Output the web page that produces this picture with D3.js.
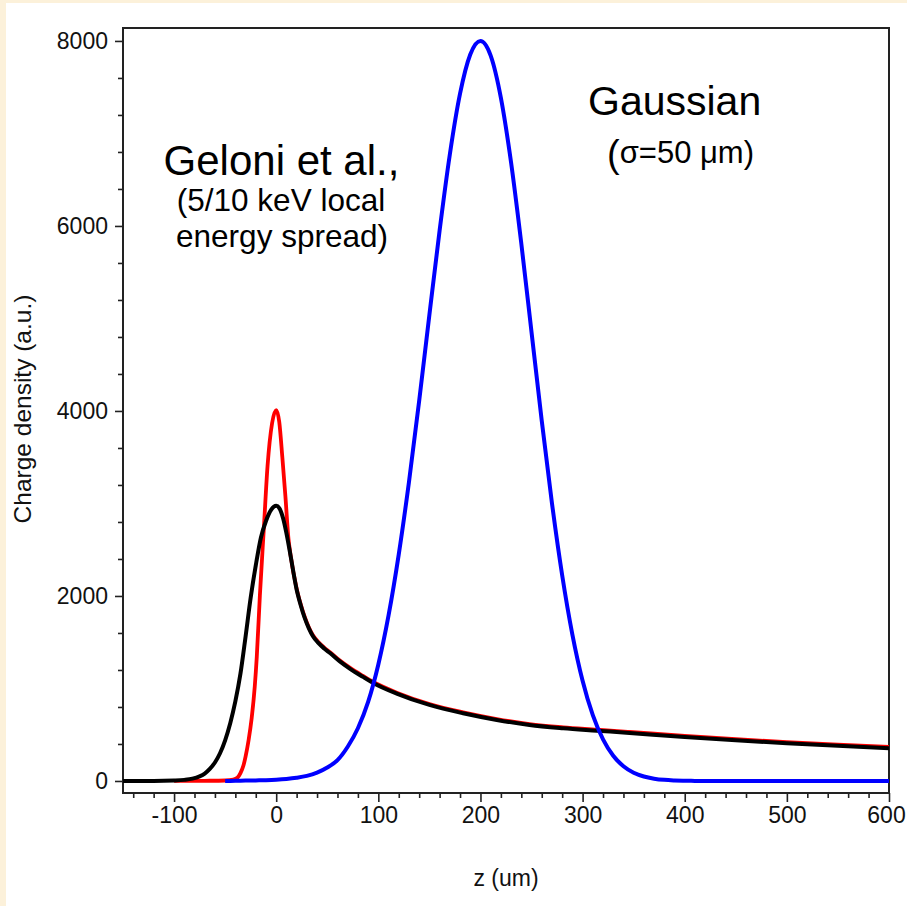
<!DOCTYPE html>
<html><head><meta charset="utf-8">
<script src="https://cdn.jsdelivr.net/npm/d3@7"></script>
<style>
html,body{margin:0;padding:0;background:#fcf1da;}
svg{display:block;}
text{font-family:"Liberation Sans",Arial,sans-serif;}
</style></head><body>
<svg id="c" width="907" height="906"></svg>
<script>
// ---- data ----
const xTickValues = [-100, 0, 100, 200, 300, 400, 500, 600];
const yTickValues = [0, 2000, 4000, 6000, 8000];
const xLabel = "z (um)";
const yLabel = "Charge density (a.u.)";

// Gaussian (sigma = 50 um), blue
const blueZ = [-50,-40,-30,-20,-10,0,10,20,30,40,50,60,70,80,90,100,110,120,130,140,150,160,170,180,190,200,
  210,220,230,240,250,260,270,280,290,300,310,320,330,340,350,360,370,380,390,400,410,420,450,500,550,600];
const blueV = [0,2,4,6,9,14,22,35,55,90,145,225,370,570,854,1259,1789,2450,3233,4111,5039,5951,6773,7430,7854,8000,
  7842,7385,6683,5809,4852,3894,3003,2224,1583,1083,711,449,272,159,89,48,25,12,6,3,1,0,0,0,0,0];

// Geloni et al., 5 keV local energy spread, red
const redZ = [-100,-70,-50,-42,-38,-35,-32,-30,-27,-24,-21,-19,-16,-12,-8.5,-4,0,3,6,9,12,14,20,24,28,32,36,41,47,53,62,72,85,95,118,150,183,216,248,281,314,346,400,450,500,550,600];
const redV = [0,2,5,15,35,85,170,263,443,680,1020,1344,2000,2750,3400,3870,4010,3880,3500,3080,2620,2445,2080,1910,1770,1660,1575,1505,1442,1390,1305,1225,1135,1070,955,832,742,670,615,580,555,530,487,452,420,393,368];

// Geloni et al., 10 keV local energy spread, black
const blackZ = [-150,-120,-100,-90,-82,-75,-70,-65,-60,-55,-50,-45,-40,-35,-30,-25,-20,-15,-10,-5,0,3,7,10,14,20,24,28,32,36,41,47,53,62,72,85,95,118,150,183,216,248,281,314,346,400,450,500,550,600];
const blackV = [0,0,5,12,25,50,80,130,200,300,440,625,860,1160,1560,1980,2330,2630,2810,2930,2975,2950,2830,2680,2440,2070,1900,1760,1650,1565,1495,1432,1380,1295,1215,1125,1060,945,822,732,660,605,570,544,519,475,440,408,380,355];

// ---- drawing ----
const W = 907, H = 906;
const svg = d3.select("#c");
svg.append("rect").attr("x", 6).attr("y", 3).attr("width", W - 6).attr("height", H - 3).attr("fill", "#ffffff");

const x = d3.scaleLinear().domain([-150, 600]).range([123, 889]);
const y = d3.scaleLinear().domain([-130, 8140]).range([793, 28]);

svg.append("defs").append("clipPath").attr("id", "clip")
  .append("rect").attr("x", x.range()[0]).attr("y", y.range()[1])
  .attr("width", x.range()[1] - x.range()[0]).attr("height", y.range()[0] - y.range()[1]);

const tickColor = "#222";
const fs = 23;
const fmt = d => String(d);

// minor ticks
const xMinor = d3.range(-140, 601, 20).filter(v => v % 100 !== 0);
const yMinor = d3.range(400, 8001, 400).filter(v => v % 2000 !== 0);

const gxm = svg.append("g").attr("transform", `translate(0,${y.range()[0]})`)
  .call(d3.axisBottom(x).tickValues(xMinor).tickSize(5).tickFormat(""));
const gx = svg.append("g").attr("transform", `translate(0,${y.range()[0]})`)
  .call(d3.axisBottom(x).tickValues(xTickValues).tickSize(9).tickPadding(5).tickFormat(fmt));
const gym = svg.append("g").attr("transform", `translate(${x.range()[0]},0)`)
  .call(d3.axisLeft(y).tickValues(yMinor).tickSize(5).tickFormat(""));
const gy = svg.append("g").attr("transform", `translate(${x.range()[0]},0)`)
  .call(d3.axisLeft(y).tickValues(yTickValues).tickSize(8).tickPadding(7).tickFormat(fmt));

[gxm, gx, gym, gy].forEach(g => {
  g.select(".domain").remove();
  g.selectAll(".tick line").attr("stroke", tickColor).attr("stroke-width", 1.6);
  g.selectAll(".tick text").attr("fill", "#111").style("font-size", fs + "px")
    .style("font-family", '"Liberation Sans",Arial,sans-serif');
});
// keep the last x label inside the page
gx.selectAll(".tick text").filter(d => d === 600).attr("dx", -3);

// frame
svg.append("rect").attr("x", x.range()[0]).attr("y", y.range()[1])
  .attr("width", x.range()[1] - x.range()[0]).attr("height", y.range()[0] - y.range()[1])
  .attr("fill", "none").attr("stroke", tickColor).attr("stroke-width", 2);

// curves
const line = d3.line().x(d => x(d[0])).y(d => y(d[1])).curve(d3.curveMonotoneX);
const plot = svg.append("g").attr("clip-path", "url(#clip)");
function series(zs, vs, color, w) {
  plot.append("path").datum(zs.map((z, i) => [z, vs[i]]))
    .attr("d", line).attr("fill", "none").attr("stroke", color)
    .attr("stroke-width", w).attr("stroke-linejoin", "round");
}
series(redZ, redV, "#ff0000", 3.8);
series(blackZ, blackV, "#000000", 4);
series(blueZ, blueV, "#0000ff", 4);

// axis labels
svg.append("text").attr("x", (x.range()[0] + x.range()[1]) / 2).attr("y", 886)
  .attr("text-anchor", "middle").style("font-size", fs + "px").attr("fill", "#111").text(xLabel);
svg.append("text").attr("transform", "translate(31,409) rotate(-90)")
  .attr("text-anchor", "middle").style("font-size", "24.5px").attr("fill", "#111").text(yLabel);

// annotations
svg.append("text").attr("x", 588).attr("y", 115).style("font-size", "41px").attr("fill", "#000").text("Gaussian");
const sg = svg.append("text").attr("x", 607).attr("y", 167).attr("fill", "#000");
sg.append("tspan").style("font-size", "38px").text("(");
sg.append("tspan").attr("dy", -4).style("font-size", "31px").text("σ=50 μm)");

svg.append("text").attr("x", 281.5).attr("y", 175).attr("text-anchor", "middle")
  .style("font-size", "42px").attr("fill", "#000").text("Geloni et al.,");
svg.append("text").attr("x", 281).attr("y", 211).attr("text-anchor", "middle")
  .style("font-size", "31.5px").attr("fill", "#000").text("(5/10 keV local");
svg.append("text").attr("x", 282).attr("y", 247).attr("text-anchor", "middle")
  .style("font-size", "31.5px").attr("fill", "#000").text("energy spread)");
</script>
</body></html>
